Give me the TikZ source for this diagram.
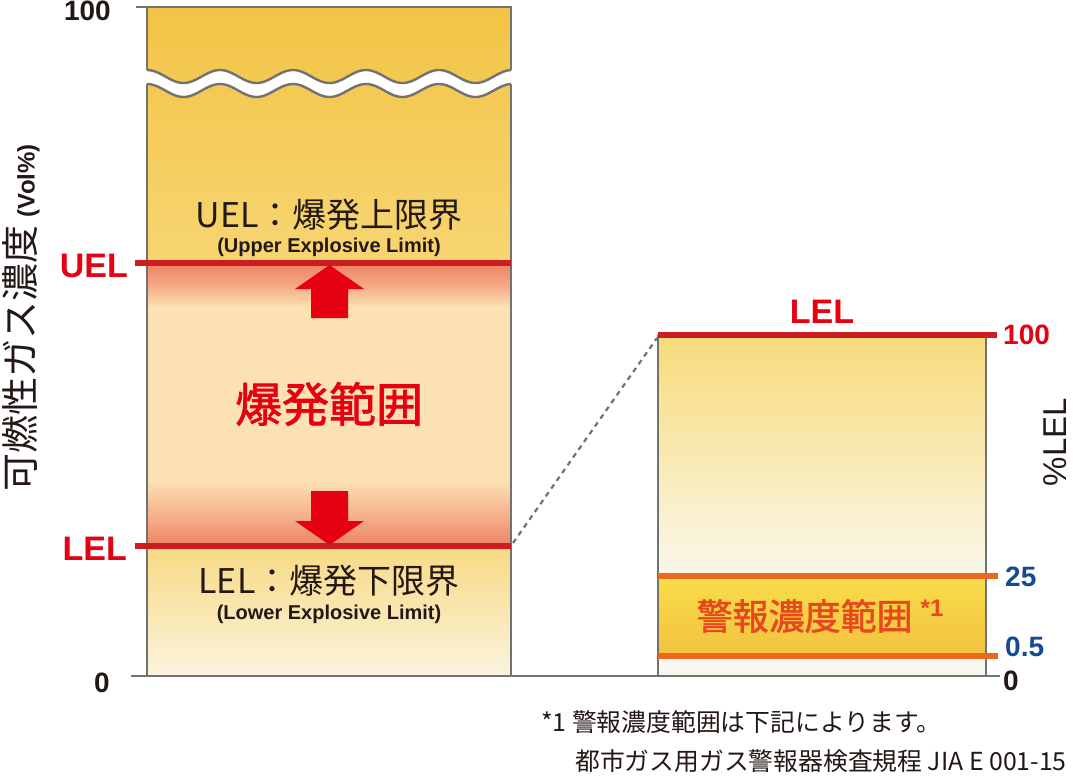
\documentclass[tikz,border=0pt]{standalone}
\usepackage{fontspec}
\setmainfont{Noto Sans CJK JP}
\newfontfamily\jpmid{Noto Sans CJK JP}[FakeBold=1.6]
\newfontfamily\labelfont{Liberation Sans}
\definecolor{ink}{HTML}{231815}
\definecolor{frame}{HTML}{727272}
\definecolor{labred}{HTML}{E50012}
\definecolor{linered}{HTML}{CC1E22}
\definecolor{salmon}{HTML}{EE8264}
\definecolor{peach}{HTML}{FCE1B3}
\definecolor{goldA}{HTML}{F2C445}
\definecolor{goldB}{HTML}{F7D572}
\definecolor{lelA}{HTML}{F8DA84}
\definecolor{lelB}{HTML}{FAF3DF}
\definecolor{barA}{HTML}{F7DB7A}
\definecolor{barB}{HTML}{FAF6E6}
\definecolor{barC}{HTML}{F9F8EE}
\definecolor{alarmA}{HTML}{F9DC4A}
\definecolor{alarmB}{HTML}{F2C23E}
\definecolor{alarmline}{HTML}{EC681E}
\definecolor{alarmtext}{HTML}{E8481E}
\definecolor{numblue}{HTML}{164B93}
\begin{document}
\begin{tikzpicture}
[x=1pt,y=-1pt,every node/.style={inner sep=0pt,text=ink},
 redlab/.style={font=\labelfont\bfseries\fontsize{34}{34}\selectfont,text=labred},
 num/.style={font=\labelfont\bfseries\fontsize{28}{28}\selectfont},
 jp/.style={font=\fontsize{34}{34}\selectfont},
 en/.style={font=\labelfont\bfseries\fontsize{20}{20}\selectfont},
 note/.style={anchor=west,font=\fontsize{24.8}{24.8}\selectfont},
 redline/.style={draw=linered,line width=6pt},
 alarmbar/.style={draw=alarmline,line width=5.5pt},
 frameline/.style={draw=frame,line width=2.4pt}]
\useasboundingbox (0,0) rectangle (1073,776);
% left column
\shade[top color=goldA,bottom color=goldB] (147,7) rectangle (511,263);
\shade[top color=salmon,bottom color=salmon!60!peach] (147,263) rectangle (511,285);
\shade[top color=salmon!60!peach,bottom color=peach] (147,285) rectangle (511,307);
\fill[peach] (147,307) rectangle (511,480);
\shade[top color=peach,bottom color=salmon!55!peach] (147,480) rectangle (511,518);
\shade[top color=salmon!55!peach,bottom color=salmon] (147,518) rectangle (511,546);
\shade[top color=lelA,bottom color=lelB] (147,546) rectangle (511,676);
% right column
\shade[top color=barA,bottom color=barB] (658,335) rectangle (986,565);
\fill[barB] (658,565) rectangle (986,576);
\shade[top color=alarmA,bottom color=alarmB] (658,576) rectangle (986,656);
\fill[barC] (658,656) rectangle (986,676);
\coordinate (topL) at (136,7);
\coordinate (topR) at (512,7);
\coordinate (axL) at (131,676);
\coordinate (axR) at (1000,676);
\coordinate (lbL) at (147,7);
\coordinate (lbLb) at (147,676);
\coordinate (lbR) at (511,7);
\coordinate (lbRb) at (511,676);
\coordinate (rbL) at (658,335);
\coordinate (rbLb) at (658,676);
\coordinate (rbR) at (986,335);
\coordinate (rbRb) at (986,676);
\foreach \from/\to in {topL/topR,axL/axR,lbL/lbLb,lbR/lbRb,rbL/rbLb,rbR/rbRb}
\draw[frameline] (\from) -- (\to);
% break
\fill[white] plot[domain=-2:366,samples=150] ({147+\x},{76.5-6.5*cos(4.9315*\x)})
 -- plot[domain=366:-2,samples=150] ({147+\x},{90.5-6.5*cos(4.9315*\x)}) -- cycle;
\draw[frameline] plot[domain=0:364,samples=150] ({147+\x},{76.5-6.5*cos(4.9315*\x)});
\draw[frameline] plot[domain=0:364,samples=150] ({147+\x},{90.5-6.5*cos(4.9315*\x)});
% limits
\coordinate (uelL) at (135,263);
\coordinate (uelR) at (511,263);
\coordinate (lelL) at (135,546);
\coordinate (lelR) at (511,546);
\coordinate (fullL) at (658,335);
\coordinate (fullR) at (997,335);
\coordinate (hiL) at (658,576);
\coordinate (hiR) at (998,576);
\coordinate (loL) at (658,656);
\coordinate (loR) at (998,656);
\draw[frame,line width=2.2pt,dash pattern=on 5pt off 4.5pt] (513,543) -- (657,338);
\foreach \from/\to in {uelL/uelR,lelL/lelR,fullL/fullR}
\draw[redline] (\from) -- (\to);
\foreach \from/\to in {hiL/hiR,loL/loR}
\draw[alarmbar] (\from) -- (\to);
% arrows
\fill[labred] (311,318) -- (311,289) -- (295,289) -- (329.5,265) -- (364,289) -- (348,289) -- (348,318) -- cycle;
\fill[labred] (311,491) -- (311,521) -- (295,521) -- (329.5,545) -- (364,521) -- (348,521) -- (348,491) -- cycle;
% labels
\node[rotate=90,font=\fontsize{38}{38}\selectfont] (ylab) at (21,318) {可燃性ガス濃度 {\labelfont\bfseries\fontsize{24}{24}\selectfont(Vol\%)}};
\node[num,anchor=east] (v100) at (111,11) {100};
\node[num,anchor=east] (v0) at (110,683) {0};
\node[redlab,anchor=east] (uel) at (128,266) {UEL};
\node[redlab,anchor=east] (lel) at (127,549) {LEL};
\node[jp] (uelname) at (329,215) {UEL：爆発上限界};
\node[en] (uelen) at (329,247) {(Upper Explosive Limit)};
\node[font=\jpmid\fontsize{47}{47}\selectfont,text=labred] (range) at (329,404) {爆発範囲};
\node[jp] (lelname) at (329,581) {LEL：爆発下限界};
\node[en] (lelen) at (329,614) {(Lower Explosive Limit)};
\node[redlab] (lel2) at (822,312) {LEL};
\node[num,text=labred,anchor=west] (p100) at (1003,335) {100};
\node[num,text=numblue,anchor=west] (p25) at (1005,577) {25};
\node[num,text=numblue,anchor=west] (p05) at (1005,647) {0.5};
\node[num,anchor=west] (p0) at (1003,681) {0};
\node[rotate=90,font=\labelfont\fontsize{33}{33}\selectfont] (plel) at (1055,442) {\%LEL};
\node[font=\jpmid\fontsize{36}{36}\selectfont,text=alarmtext] (alarm) at (820,616) {警報濃度範囲 \raisebox{13pt}{\labelfont\bfseries\fontsize{24}{24}\selectfont *1}};
\node[note] (note1) at (541,722) {*1 警報濃度範囲は下記によります。};
\node[note] (note2) at (575,761) {都市ガス用ガス警報器検査規程 JIA E 001-15};
\end{tikzpicture}
\end{document}
